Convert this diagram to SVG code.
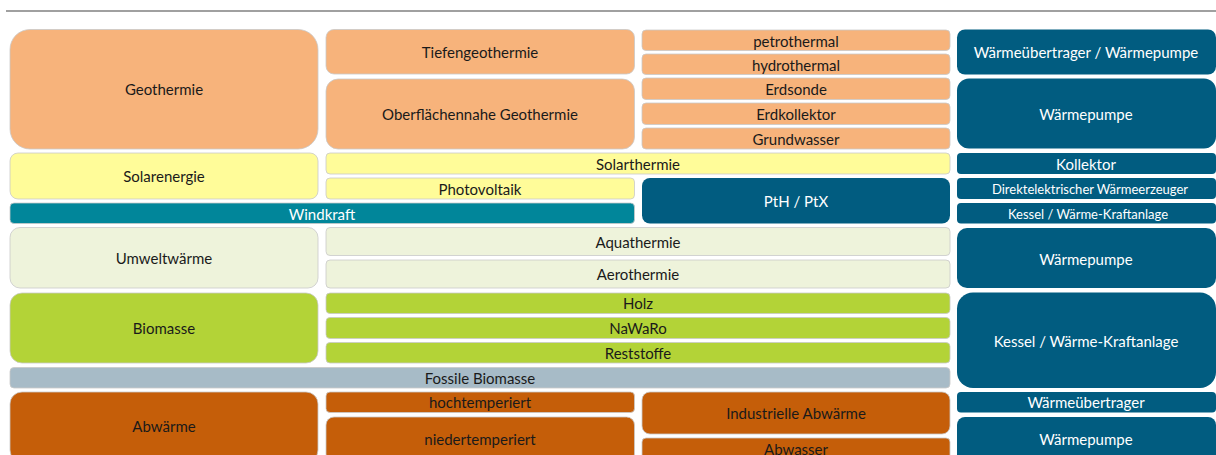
<svg xmlns="http://www.w3.org/2000/svg" width="1216" height="455" viewBox="0 0 1216 455">
<style>
text{font-family:Lato,"Open Sans","Liberation Sans",sans-serif;font-size:15px;text-anchor:middle;dominant-baseline:central;fill:#1a1a1a}
.w{fill:#ffffff}
.s{font-size:13px}
rect{stroke:#c9c9c9;stroke-width:0.8}
.geo{fill:#F7B37B}
.sol{fill:#FFFC99}
.wind{fill:#01869A}
.blue{fill:#015C80;stroke:none}
.umw{fill:#EEF3DB}
.bio{fill:#B3D337}
.fos{fill:#A7BBC7}
.abw{fill:#C55E09}
</style>
<line x1="6" y1="11" x2="1216" y2="11" stroke="#a0a0a0" stroke-width="2"/>
<g id="connectors"/>
<g id="geothermie"><rect class="geo" x="10" y="29.5" width="308" height="119.5" rx="20"/><text x="164" y="89">Geothermie</text></g>
<g id="tiefengeothermie"><rect class="geo" x="326" y="29.5" width="308.5" height="44.5" rx="8"/><text x="480" y="52">Tiefengeothermie</text></g>
<g id="oberflaechennahe"><rect class="geo" x="326" y="79" width="308.5" height="70" rx="12"/><text x="480" y="114">Oberflächennahe Geothermie</text></g>
<g id="petrothermal"><rect class="geo" x="642" y="30" width="308" height="20.5" rx="4"/><text x="796" y="40.5">petrothermal</text></g>
<g id="hydrothermal"><rect class="geo" x="642" y="54" width="308" height="20.5" rx="4"/><text x="796" y="64.5">hydrothermal</text></g>
<g id="erdsonde"><rect class="geo" x="642" y="78" width="308" height="21.5" rx="4"/><text x="796" y="88.5">Erdsonde</text></g>
<g id="erdkollektor"><rect class="geo" x="642" y="103" width="308" height="21.5" rx="4"/><text x="796" y="113.5">Erdkollektor</text></g>
<g id="grundwasser"><rect class="geo" x="642" y="128" width="308" height="21" rx="4"/><text x="796" y="138.5">Grundwasser</text></g>
<g id="waermeuebertrager-waermepumpe"><rect class="blue" x="957" y="29.5" width="259" height="45" rx="8"/><text class="w" x="1086" y="52">Wärmeübertrager / Wärmepumpe</text></g>
<g id="waermepumpe-1"><rect class="blue" x="957" y="78.5" width="259" height="70" rx="12"/><text class="w" x="1086" y="113.5">Wärmepumpe</text></g>
<g id="solarenergie"><rect class="sol" x="10" y="153" width="308" height="46" rx="8"/><text x="164" y="176">Solarenergie</text></g>
<g id="solarthermie"><rect class="sol" x="326" y="153" width="624" height="21" rx="4"/><text x="638" y="163.5">Solarthermie</text></g>
<g id="photovoltaik"><rect class="sol" x="326" y="178" width="308.5" height="21" rx="4"/><text x="480" y="188.5">Photovoltaik</text></g>
<g id="windkraft"><rect class="wind" x="10" y="203" width="624.5" height="20.5" rx="4"/><text class="w" x="322" y="213.5">Windkraft</text></g>
<g id="pth-ptx"><rect class="blue" x="642" y="178" width="308" height="45.5" rx="8"/><text class="w" x="796" y="201">PtH / PtX</text></g>
<g id="kollektor"><rect class="blue" x="957" y="153" width="259" height="21" rx="4"/><text class="w" x="1086" y="163.5">Kollektor</text></g>
<g id="direktelektrisch"><rect class="blue" x="957" y="178" width="259" height="21" rx="4"/><text class="w s" x="1090" y="188.5">Direktelektrischer Wärmeerzeuger</text></g>
<g id="kessel-1"><rect class="blue" x="957" y="203" width="259" height="20.5" rx="4"/><text class="w s" x="1088" y="213.5">Kessel / Wärme-Kraftanlage</text></g>
<g id="umweltwaerme"><rect class="umw" x="10" y="227.5" width="308" height="60.5" rx="10"/><text x="164" y="258">Umweltwärme</text></g>
<g id="aquathermie"><rect class="umw" x="326" y="227.5" width="624" height="28" rx="4"/><text x="638" y="242">Aquathermie</text></g>
<g id="aerothermie"><rect class="umw" x="326" y="260" width="624" height="28" rx="4"/><text x="638" y="274">Aerothermie</text></g>
<g id="waermepumpe-2"><rect class="blue" x="957" y="228" width="259" height="60" rx="10"/><text class="w" x="1086" y="258.5">Wärmepumpe</text></g>
<g id="biomasse"><rect class="bio" x="10" y="293" width="308" height="70" rx="12"/><text x="164" y="328">Biomasse</text></g>
<g id="holz"><rect class="bio" x="326" y="293" width="624" height="20.5" rx="4"/><text x="638" y="303">Holz</text></g>
<g id="nawaro"><rect class="bio" x="326" y="317.5" width="624" height="21" rx="4"/><text x="638" y="328">NaWaRo</text></g>
<g id="reststoffe"><rect class="bio" x="326" y="342.5" width="624" height="20.5" rx="4"/><text x="638" y="353">Reststoffe</text></g>
<g id="kessel-2"><rect class="blue" x="957" y="292.5" width="259" height="95.5" rx="16"/><text class="w" x="1086" y="340.5">Kessel / Wärme-Kraftanlage</text></g>
<g id="fossile-biomasse"><rect class="fos" x="10" y="367.5" width="940" height="20.5" rx="4"/><text x="480" y="378">Fossile Biomasse</text></g>
<g id="abwaerme"><rect class="abw" x="10" y="392" width="308" height="70" rx="12"/><text x="164" y="425.5">Abwärme</text></g>
<g id="hochtemperiert"><rect class="abw" x="326" y="392" width="308.5" height="20.5" rx="4"/><text x="480" y="402">hochtemperiert</text></g>
<g id="niedertemperiert"><rect class="abw" x="326" y="417" width="308.5" height="45" rx="8"/><text x="480" y="438.5">niedertemperiert</text></g>
<g id="industrielle-abwaerme"><rect class="abw" x="642" y="392" width="308" height="42" rx="8"/><text x="796" y="413">Industrielle Abwärme</text></g>
<g id="abwasser"><rect class="abw" x="642" y="438" width="308" height="24" rx="4"/><text x="796" y="448.5">Abwasser</text></g>
<g id="waermeuebertrager"><rect class="blue" x="957" y="392" width="259" height="20.5" rx="4"/><text class="w" x="1086" y="401.5">Wärmeübertrager</text></g>
<g id="waermepumpe-3"><rect class="blue" x="957" y="417" width="259" height="45" rx="8"/><text class="w" x="1086" y="438.5">Wärmepumpe</text></g>
</svg>
